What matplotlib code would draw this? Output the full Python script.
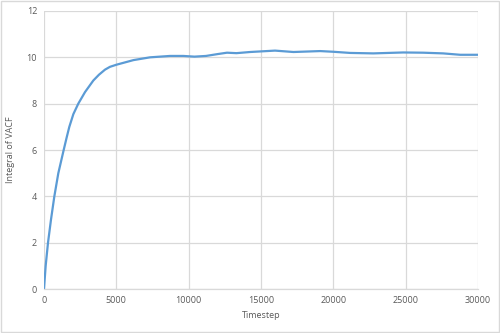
import matplotlib
matplotlib.use("Agg")
import matplotlib.pyplot as plt
from matplotlib.patches import Rectangle

timestep = [0, 115, 277, 484, 715, 990, 1360, 1570, 1750, 2030, 2370, 2835, 3410, 3800,
            4220, 4560, 5000, 6180, 7330, 8710, 9630, 10400, 11200, 12000, 12650, 13300,
            14250, 15970, 17240, 19090, 20000, 21160, 22760, 24830, 26210, 27590, 28770,
            30000]
vacf_integral = [0, 1, 2, 3, 4, 5, 6, 6.55, 7, 7.55, 8, 8.5, 9, 9.25,
                 9.47, 9.59, 9.68, 9.88, 10.0, 10.06, 10.06, 10.03, 10.06, 10.14, 10.2, 10.18,
                 10.23, 10.29, 10.23, 10.27, 10.24, 10.19, 10.17, 10.21, 10.2, 10.17, 10.11,
                 10.11]
xticks = [0, 5000, 10000, 15000, 20000, 25000, 30000]
yticks = [0, 2, 4, 6, 8, 10, 12]

plt.rcParams['font.family'] = ['Open Sans', 'DejaVu Sans']
fig = plt.figure(figsize=(5, 3.33), dpi=100)
ax = fig.add_axes([0.088, 0.132, 0.868, 0.835])
ax.plot(timestep, vacf_integral, color='#5b9bd5', lw=1.6,
        solid_joinstyle='round', solid_capstyle='round')
ax.set_xlim(0, 30000)
ax.set_ylim(0, 12)
ax.set_xticks(xticks)
ax.set_yticks(yticks)
ax.grid(True, color='#d9d9d9', lw=0.9)
ax.set_axisbelow(True)
for s in ['top', 'right', 'left']:
    ax.spines[s].set_visible(False)
ax.spines['bottom'].set_color('#d9d9d9')
ax.spines['bottom'].set_linewidth(0.9)
ax.tick_params(length=0, labelsize=6.5, colors='#595959', pad=5)
ax.set_xlabel('Timestep', fontsize=6.5, color='#595959', labelpad=4)
ax.set_ylabel('Integral of VACF', fontsize=6.5, color='#595959', labelpad=8)
fig.patches.append(Rectangle((0.002, 0.003), 0.996, 0.994, transform=fig.transFigure,
                             fill=False, edgecolor='#d9d9d9', lw=1))
fig.savefig('out.png', dpi=100)
